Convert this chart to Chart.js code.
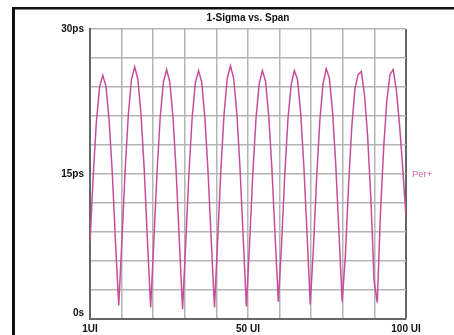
<!DOCTYPE html>
<html>
<head>
<meta charset="utf-8">
<script src="https://cdn.jsdelivr.net/npm/chart.js@4.4.1/dist/chart.umd.min.js"></script>
<style>
  html, body { margin: 0; padding: 0; background: #fff; }
  canvas { display: block; }
</style>
</head>
<body>
<canvas id="chart" width="454" height="335"></canvas>
<script>
// span in unit intervals
const spanUI = [
  1, 2, 3, 4, 5, 6, 7, 8, 9, 10,
  11, 12, 13, 14, 15, 16, 17, 18, 19, 20,
  21, 22, 23, 24, 25, 26, 27, 28, 29, 30,
  31, 32, 33, 34, 35, 36, 37, 38, 39, 40,
  41, 42, 43, 44, 45, 46, 47, 48, 49, 50,
  51, 52, 53, 54, 55, 56, 57, 58, 59, 60,
  61, 62, 63, 64, 65, 66, 67, 68, 69, 70,
  71, 72, 73, 74, 75, 76, 77, 78, 79, 80,
  81, 82, 83, 84, 85, 86, 87, 88, 89, 90,
  91, 92, 93, 94, 95, 96, 97, 98, 99, 100
];

// 1-sigma, ps (Per+)
const sigmaPs = [
  7.8, 14.8, 20.4, 24.0, 25.2, 24.1, 20.5, 15.0, 7.9, 1.4,
  8.1, 15.3, 21.1, 24.8, 26.1, 24.8, 21.1, 15.4, 8.1, 1.2,
  8.0, 15.2, 20.9, 24.5, 25.8, 24.5, 20.9, 15.2, 8.0, 1.0,
  7.9, 15.1, 20.8, 24.4, 25.7, 24.5, 20.8, 15.1, 8.0, 1.2,
  8.1, 15.4, 21.2, 24.9, 26.2, 24.9, 21.3, 15.6, 8.4, 1.3,
  7.8, 15.0, 20.7, 24.3, 25.7, 24.6, 21.0, 15.5, 8.5, 1.8,
  7.6, 14.8, 20.6, 24.2, 25.7, 24.8, 21.3, 15.8, 8.8, 1.5,
  7.4, 14.6, 20.5, 24.3, 25.9, 24.9, 21.4, 15.9, 8.9, 1.8,
  6.5, 13.8, 19.8, 23.8, 25.3, 25.6, 23.2, 18.8, 12.4, 4.0,
  1.7, 11.0, 17.7, 22.6, 25.3, 25.8, 23.6, 20.0, 15.5, 10.5
];

const xGridUI = [1, 10.9, 20.8, 30.7, 40.6, 50.5, 60.4, 70.3, 80.2, 90.1, 100];
const xTickLabels = ["1UI", "", "", "", "", "50 UI", "", "", "", "", "100 UI"];
const yTickValues = [30, 15, 0];
const yTickLabels = ["30ps", "15ps", "0s"];

const LINE = "#c64e98";
const FONT = "'Liberation Sans', Arial, sans-serif";

const decorations = {
  id: "decorations",
  beforeDraw(chart) {
    const c = chart.ctx;
    c.save();
    c.fillStyle = "#fff";
    c.fillRect(0, 0, chart.width, chart.height);
    // outer frame
    c.fillStyle = "#111";
    c.fillRect(12, 7, chart.width - 12, 2.5);
    c.fillRect(12, 7, 3, chart.height - 7);
    c.restore();
  },
  afterDraw(chart) {
    const c = chart.ctx;
    const area = chart.chartArea;
    const y = chart.scales.y;
    c.save();
    c.fillStyle = "#111";
    c.font = "bold 10px " + FONT;
    c.textAlign = "center";
    c.textBaseline = "middle";
    c.fillText("1-Sigma vs. Span", (area.left + area.right) / 2, 18);

    c.textAlign = "right";
    yTickValues.forEach((v, i) => {
      let py = y.getPixelForValue(v);
      if (v === 0) py -= 6;
      c.fillText(yTickLabels[i], area.left - 6, py);
    });

    c.fillStyle = "#d56aa8";
    c.font = "9.5px " + FONT;
    c.textAlign = "left";
    c.fillText("Per+", area.right + 6, y.getPixelForValue(15));
    c.restore();
  }
};

new Chart(document.getElementById("chart"), {
  type: "line",
  data: {
    datasets: [
      {
        label: "Per+",
        data: spanUI.map((x, i) => ({ x: x, y: sigmaPs[i] })),
        borderColor: LINE,
        borderWidth: 1.5,
        pointRadius: 0,
        tension: 0,
        fill: false,
      },
    ],
  },
  options: {
    responsive: false,
    animation: false,
    devicePixelRatio: 1,
    layout: { padding: { left: 0, right: 48, top: 29, bottom: 0 } },
    plugins: {
      legend: { display: false },
      title: { display: false },
      tooltip: { enabled: false },
    },
    scales: {
      x: {
        type: "linear",
        min: 1,
        max: 100,
        afterBuildTicks: (scale) => {
          scale.ticks = xGridUI.map((v) => ({ value: v }));
        },
        afterFit: (scale) => {
          scale.height = 16;
        },
        ticks: {
          autoSkip: false,
          maxRotation: 0,
          padding: 4,
          color: "#111",
          font: { family: FONT, size: 10, weight: "bold" },
          callback: (value, index) => xTickLabels[index],
        },
        grid: {
          drawTicks: false,
          color: (ctx) => (ctx.index === xGridUI.length - 1 ? "#666" : "#b4b4b4"),
          lineWidth: (ctx) => (ctx.index === xGridUI.length - 1 ? 2 : 1.5),
        },
        border: { color: "#666", width: 2 },
      },
      y: {
        min: 0,
        max: 30,
        afterFit: (scale) => {
          scale.width = 90;
        },
        ticks: { stepSize: 3, display: false },
        grid: { drawTicks: false, color: "#b4b4b4", lineWidth: 1.5 },
        border: { color: "#666", width: 2 },
      },
    },
  },
  plugins: [decorations],
});
</script>
</body>
</html>
